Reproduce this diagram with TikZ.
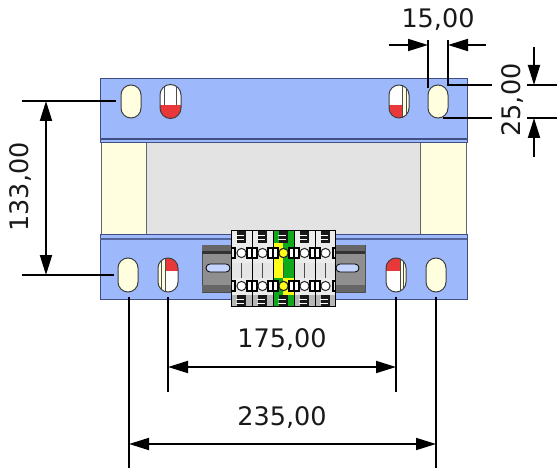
\documentclass[tikz,border=0pt]{standalone}
\usepackage{fontspec}
\setmainfont{DejaVu Sans}
\usetikzlibrary{arrows.meta}
\definecolor{plate}{HTML}{9DB8FB}
\definecolor{platee}{HTML}{3F4F86}
\definecolor{cream}{HTML}{FFFFE0}
\definecolor{core}{HTML}{E3E3E3}
\definecolor{redp}{HTML}{E8383A}
\definecolor{greent}{HTML}{0DAB1C}
\definecolor{yellowt}{HTML}{FFFF1A}
\definecolor{railg}{HTML}{8F8F8F}
\tikzset{
  x=1pt,y=-1pt,
  dimline/.style={line width=1.8pt,black},
  dimarrow/.style={line width=1.8pt,black,-{Triangle[length=20pt,width=12pt]}},
  dimboth/.style={line width=1.8pt,black,{Triangle[length=20pt,width=12pt]}-{Triangle[length=20pt,width=12pt]}},
  dimtext/.style={font=\fontsize{25.5}{26}\selectfont,inner sep=0pt,text=black!90},
  slotline/.style={draw=black!75,line width=1pt},
  tbline/.style={black,line width=1pt},
}
\newcommand{\slotpath}[4]{(#1,#3) arc[start angle=180,end angle=360,radius={(#2-#1)/2}] -- (#2,#4) arc[start angle=0,end angle=180,radius={(#2-#1)/2}] -- cycle}
\begin{document}
\begin{tikzpicture}
\useasboundingbox (0,0) rectangle (557,468);
\fill[white] (0,0) rectangle (557,468);
% core and limbs
\draw[fill=core,draw=black!60,line width=.8pt] (146,141) rectangle (420,234);
\draw[fill=cream,draw=black!60,line width=.8pt] (101,141) rectangle (146,234);
\draw[fill=cream,draw=black!60,line width=.8pt] (420,141) rectangle (466,234);
% plates
\draw[fill=plate,draw=platee,line width=.7pt] (100,78) rectangle (467,142);
\draw[platee,line width=1.6pt] (100,139) -- (467,139);
\draw[fill=plate,draw=platee,line width=.7pt] (100,234) rectangle (467,299);
\draw[platee!80!plate,line width=1.6pt] (100,239) -- (467,239);
% slots top
\draw[slotline,fill=cream] \slotpath{121}{141}{95}{108};
\draw[slotline,fill=cream] \slotpath{428}{448}{95}{108};
\begin{scope}
\clip \slotpath{160}{181}{95}{108};
\fill[white] (160,80) rectangle (181,120);
\fill[redp] (160,105) rectangle (181,120);
\draw[black!70,line width=.7pt] (164,80) -- (164,105) (176,80) -- (176,105);
\end{scope}
\draw[slotline] \slotpath{160}{181}{95}{108};
\begin{scope}
\clip \slotpath{389}{409}{95}{108};
\fill[cream] (389,80) rectangle (409,120);
\fill[white] (389,80) rectangle (402,120);
\fill[redp] (389,105) rectangle (402,120);
\draw[black!70,line width=.7pt] (402,80) -- (402,120) (406,80) -- (406,120);
\end{scope}
\draw[slotline] \slotpath{389}{409}{95}{108};
% slots bottom
\draw[slotline,fill=cream] \slotpath{118}{138}{268}{282};
\draw[slotline,fill=cream] \slotpath{426}{446}{268}{282};
\begin{scope}
\clip \slotpath{158}{178}{268}{282};
\fill[cream] (158,255) rectangle (178,295);
\fill[white] (165,255) rectangle (178,295);
\fill[redp] (165,255) rectangle (178,271);
\draw[black!70,line width=.7pt] (165,255) -- (165,295) (161,255) -- (161,295);
\end{scope}
\draw[slotline] \slotpath{158}{178}{268}{282};
\begin{scope}
\clip \slotpath{386}{406}{268}{282};
\fill[cream] (386,255) rectangle (406,295);
\fill[white] (386,255) rectangle (400,295);
\fill[redp] (386,255) rectangle (400,271);
\draw[black!70,line width=.7pt] (400,255) -- (400,295) (403,255) -- (403,295);
\end{scope}
\draw[slotline] \slotpath{386}{406}{268}{282};
% DIN rail
\draw[fill=railg,draw=black!70,line width=.7pt] (202,245) rectangle (365,292);
\fill[black!60] (202,245) rectangle (365,251);
\fill[black!80] (202,251) rectangle (365,254);
\fill[black!60] (202,285) rectangle (365,292);
\draw[fill=plate!60!white,draw=black,line width=.8pt] (210,264) arc[start angle=-90,end angle=-270,radius=4] -- (226,272) arc[start angle=90,end angle=-90,radius=4] -- cycle;
\draw[fill=plate!60!white,draw=black,line width=.8pt] (340,264) arc[start angle=-90,end angle=-270,radius=4] -- (355,272) arc[start angle=90,end angle=-90,radius=4] -- cycle;
% terminal block
\fill[white] (231,230) rectangle (336,307);
\fill[black!8] (231,243) rectangle (336,263);
\fill[black!8] (231,278) rectangle (336,295);
\fill[black!10] (231,263) rectangle (336,278);
\fill[black!28] (231,295) rectangle (336,307);
\fill[black!8] (231,230) rectangle (336,243);
% earth module colours
\fill[greent] (273,230) rectangle (294,307);
\fill[yellowt] (273,243) rectangle (283,278);
\fill[yellowt] (283,278) rectangle (294,295);
\foreach \c in {241.5,262.5,283.5,304.5,325.5}{
  \fill[black!90] (\c-4.5,231) rectangle (\c+4,243);
  \fill[black!90] (\c-4.5,295) rectangle (\c+4,307);
  \foreach \y in {234.5,238.5,298.5,302.5}{\fill[white] (\c-6,\y) rectangle (\c+2,\y+.7);}
  \draw[black!70,line width=.7pt] (\c,263) -- (\c,278);
  \draw[black!85,line width=1pt,fill=white] (\c,253) circle[radius=4.6];
  \draw[black!85,line width=1pt,fill=white] (\c,286) circle[radius=4.6];
}
\draw[black!85,line width=1pt,fill=yellowt] (283.5,253) circle[radius=4.6];
\draw[black!85,line width=1pt,fill=yellowt] (283.5,286) circle[radius=4.6];
\foreach \b in {231.5,252,273,294,315,335.5}{
  \draw[tbline] (\b,231) -- (\b,307);
}
\foreach \b in {252,273,294,315}{
  \draw[black,line width=1.5pt,fill=white] (\b-5,248) rectangle (\b+5,258);
  \draw[black,line width=1.5pt,fill=white] (\b-5,281) rectangle (\b+5,291);
  \draw[black,line width=1.2pt] (\b,248) -- (\b,258) (\b,281) -- (\b,291);
}
\draw[black,line width=1.5pt] (231,248) -- (235,248) -- (235,258) -- (231,258);
\draw[black,line width=1.5pt] (231,281) -- (235,281) -- (235,291) -- (231,291);
\draw[black,line width=1.5pt] (336,248) -- (333,248) -- (333,258) -- (336,258);
\draw[black,line width=1.5pt] (336,281) -- (333,281) -- (333,291) -- (336,291);
\draw[black,line width=.9pt] (231,230.5) -- (336,230.5) (231,306.5) -- (336,306.5);
% dimension coordinates
\coordinate (a1) at (428,40);  \coordinate (a2) at (428,88);
\coordinate (b1) at (448,40);  \coordinate (b2) at (448,86);
\coordinate (c1) at (389,45);  \coordinate (c2) at (428,45);
\coordinate (c3) at (486,45);  \coordinate (c4) at (448,45);
\node[dimtext] (t15) at (438,20) {15,00};
\draw[dimline] (a1) -- (a2);
\draw[dimline] (b1) -- (b2);
\draw[dimarrow] (c1) -- (c2);
\draw[dimarrow] (c3) -- (c4);
% 25,00
\coordinate (d1) at (447,85); \coordinate (d2) at (492,85);
\coordinate (d3) at (527,85); \coordinate (d4) at (557,85);
\coordinate (e1) at (443,118); \coordinate (e2) at (492,118);
\coordinate (e3) at (527,118); \coordinate (e4) at (557,118);
\coordinate (f1) at (534,47); \coordinate (f2) at (534,85);
\coordinate (f3) at (534,157); \coordinate (f4) at (534,118);
\node[dimtext,rotate=90] (t25) at (513,100) {25,00};
\draw[dimline] (d1) -- (d2) (d3) -- (d4) (e1) -- (e2) (e3) -- (e4);
\draw[dimarrow] (f1) -- (f2);
\draw[dimarrow] (f3) -- (f4);
% 133,00
\coordinate (g1) at (22,101); \coordinate (g2) at (116,101);
\coordinate (h1) at (22,275); \coordinate (h2) at (114,275);
\coordinate (i1) at (46,101); \coordinate (i2) at (46,275);
\node[dimtext,rotate=90] (t133) at (21,187) {133,00};
\draw[dimline] (g1) -- (g2);
\draw[dimline] (h1) -- (h2);
\draw[dimboth] (i1) -- (i2);
% 175,00
\coordinate (j1) at (168,297); \coordinate (j2) at (168,392);
\coordinate (k1) at (396,297); \coordinate (k2) at (396,392);
\coordinate (l1) at (168,367); \coordinate (l2) at (396,367);
\node[dimtext] (t175) at (282,340) {175,00};
\draw[dimline] (j1) -- (j2);
\draw[dimline] (k1) -- (k2);
\draw[dimboth] (l1) -- (l2);
% 235,00
\coordinate (m1) at (129,297); \coordinate (m2) at (129,468);
\coordinate (n1) at (436,297); \coordinate (n2) at (436,468);
\coordinate (o1) at (129,444); \coordinate (o2) at (436,444);
\node[dimtext] (t235) at (282,418) {235,00};
\draw[dimline] (m1) -- (m2);
\draw[dimline] (n1) -- (n2);
\draw[dimboth] (o1) -- (o2);
\end{tikzpicture}
\end{document}
